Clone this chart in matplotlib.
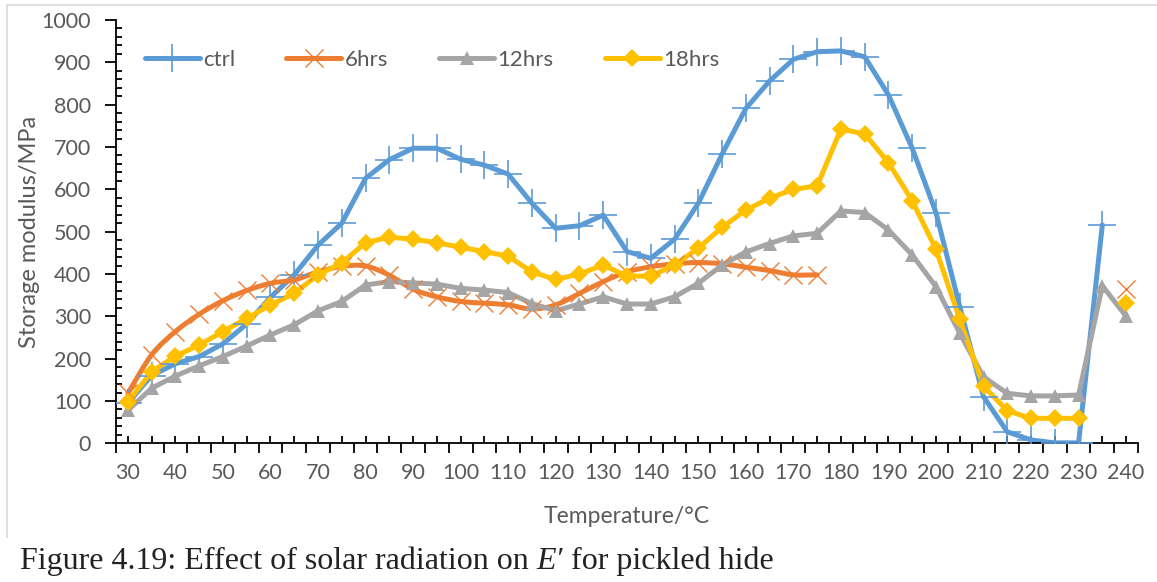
#! /usr/bin/env python

import matplotlib
matplotlib.use("Agg")
import matplotlib.pyplot as plt
from matplotlib.path import Path
from matplotlib.patches import PathPatch
from matplotlib.lines import Line2D
from matplotlib.ticker import MultipleLocator, FuncFormatter
import numpy

########################################################################

temperature = list(range(30, 245, 5))

ctrl = [95, 160, 188, 205, 235, 282, 345, 398, 468, 520, 626, 670, 697,
        697, 671, 657, 636, 567, 508, 514, 539, 453, 437, 482, 567, 683,
        791, 856, 907, 925, 927, 913, 823, 697, 545, 323, 110, 27, 8, 1,
        1, 516, None]

hrs6 = [118, 209, 264, 305, 337, 361, 378, 386, 405, 418, 419, 397, 364,
        346, 335, 331, 327, 317, 327, 354, 382, 405, 417, 424, 427, 424,
        416, 408, 398, 398] + [None] * 12 + [365]

hrs12 = [78, 130, 159, 183, 205, 230, 256, 280, 313, 335, 374, 382, 379,
         376, 366, 362, 356, 330, 313, 329, 346, 329, 329, 346, 378, 421,
         452, 472, 490, 496, 549, 545, 504, 445, 370, 260, 157, 118, 112,
         112, 114, 372, 300]

hrs18 = [98, 169, 206, 232, 264, 295, 327, 354, 398, 426, 474, 487, 482,
         474, 463, 453, 442, 405, 387, 400, 421, 395, 395, 421, 461, 510,
         551, 579, 600, 608, 742, 731, 663, 573, 458, 293, 135, 77, 59, 59,
         59, None, 332]

BLUE = "#5B9BD5"
ORANGE = "#ED7D31"
GREY = "#A5A5A5"
GOLD = "#FFC000"
TEXT = "#595959"

plt.rcParams['font.family'] = ['Lato', 'DejaVu Sans']

########################################################################

def to_array(values):
    """Replace missing readings with NaN"""
    return numpy.array([numpy.nan if v is None else v for v in values],
                       dtype=float)

def smooth_path(x, y):
    """
    Build a Catmull-Rom style bezier path through the points, the way
    a spreadsheet draws a smoothed line

    Arguments:
        x, y : coordinates of one unbroken run of points
    """
    pts = numpy.column_stack([x, y])
    verts = [pts[0]]
    codes = [Path.MOVETO]
    n = len(pts)
    for i in range(n - 1):
        p0 = pts[max(i - 1, 0)]
        p1 = pts[i]
        p2 = pts[i + 1]
        p3 = pts[min(i + 2, n - 1)]
        c1 = p1 + (p2 - p0) / 6.0
        c2 = p2 - (p3 - p1) / 6.0
        verts += [c1, c2, p2]
        codes += [Path.CURVE4] * 3
    return Path(verts, codes)

def plot_series(ax, x, values, color, marker, msize, mew, label,
                smooth=False):
    """Draw one series: the line, then its markers"""
    y = to_array(values)
    x = numpy.array(x, dtype=float)
    if smooth:
        good = ~numpy.isnan(y)
        # split into unbroken runs
        idx = numpy.where(good)[0]
        runs = numpy.split(idx, numpy.where(numpy.diff(idx) > 1)[0] + 1)
        for run in runs:
            if len(run) > 1:
                ax.add_patch(PathPatch(smooth_path(x[run], y[run]),
                                       facecolor="none", edgecolor=color,
                                       lw=3.6, capstyle="round",
                                       joinstyle="round", zorder=2))
    else:
        ax.plot(x, y, color=color, lw=3.6, solid_joinstyle="round",
                solid_capstyle="round", zorder=2)
    filled = marker in ("^", "D")
    ax.plot(x, y, ls="none", marker=marker, ms=msize, mew=mew,
            color=color, mfc=color if filled else "none", zorder=3)
    # legend handle
    return Line2D([], [], color=color, lw=3.6, marker=marker, ms=msize,
                  mew=mew, mfc=color if filled else "none",
                  solid_capstyle="round", label=label)

########################################################################

fig = plt.figure(figsize=(11.57, 5.82), dpi=100)
ax = fig.add_axes([116 / 1157, 1 - 443.3 / 582, 1022 / 1157, 423.3 / 582])

handles = [
    plot_series(ax, temperature, ctrl, BLUE, "+", 20, 1.2, "ctrl"),
    plot_series(ax, temperature, hrs6, ORANGE, "x", 13, 1.0, "6hrs",
                smooth=True),
    plot_series(ax, temperature, hrs12, GREY, "^", 10, 0, "12hrs"),
    plot_series(ax, temperature, hrs18, GOLD, "D", 9, 0, "18hrs"),
]

ax.set_xlim(27.5, 242.5)
ax.set_ylim(0, 1000)

for side in ("top", "right"):
    ax.spines[side].set_visible(False)
for side in ("left", "bottom"):
    ax.spines[side].set_linewidth(1.3)

# x: labels at every other category, ticks between categories
ax.xaxis.set_major_locator(MultipleLocator(5))
ax.xaxis.set_major_formatter(
    FuncFormatter(lambda v, p: "%d" % v if round(v) % 10 == 0 else ""))
ax.set_xticks(numpy.arange(27.5, 245, 5), minor=True)
ax.tick_params(axis="x", which="major", direction="in", length=5,
               width=1.3, labelsize=15.5, labelcolor=TEXT, pad=14)
ax.tick_params(axis="x", which="minor", direction="out", length=7,
               width=1.3)

ax.yaxis.set_major_locator(MultipleLocator(100))
ax.yaxis.set_minor_locator(MultipleLocator(20))
ax.tick_params(axis="y", which="major", direction="out", length=8,
               width=1.3, labelsize=15.5, labelcolor=TEXT, pad=10)
ax.tick_params(axis="y", which="minor", direction="in", length=4,
               width=1.3)

ax.set_xlabel("Temperature/°C", fontsize=16.5, color=TEXT, labelpad=17)
ax.set_ylabel("Storage modulus/MPa", fontsize=17, color=TEXT, labelpad=1)

ax.legend(handles=handles, ncol=4, loc="center left",
          bbox_to_anchor=(0.028, 0.905), frameon=False, fontsize=16,
          handlelength=2.48, handletextpad=0.15, columnspacing=2.3,
          borderpad=0, borderaxespad=0, labelcolor=TEXT)

# chart area outline
fig.add_artist(Line2D([7 / 1157, 1], [1 - 5 / 582] * 2, color="#D9D9D9",
                      lw=1.2, transform=fig.transFigure))
fig.add_artist(Line2D([7 / 1157] * 2, [1 - 5 / 582, 1 - 537 / 582],
                      color="#D9D9D9", lw=1.2, transform=fig.transFigure))

# caption in three pieces so the symbol can be italic
cap = dict(fontsize=23, family="Liberation Serif", color="#222222",
           va="bottom", ha="left")
t1 = fig.text(20 / 1157, 1 - 576 / 582,
              "Figure 4.19: Effect of solar radiation on ", **cap)
t2 = ax.annotate("E\u2032", xy=(1, 0), xycoords=t1, style="italic",
                 annotation_clip=False, **cap)
t3 = ax.annotate(" for pickled hide", xy=(1, 0), xycoords=t2,
                 annotation_clip=False, **cap)

fig.savefig("out.png", dpi=100)
